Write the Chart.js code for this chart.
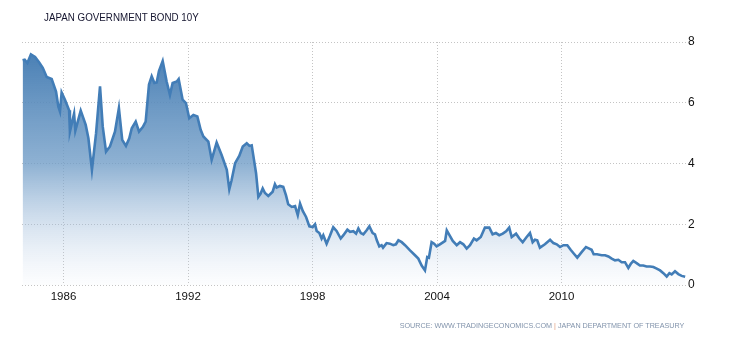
<!DOCTYPE html>
<html lang="en">
<head>
  <meta charset="UTF-8">
  <title>Japan Government Bond 10Y</title>
  <style>
    body {
      margin: 0;
      background: #fff;
      font-family: "Liberation Sans", Arial, sans-serif;
    }
    #wrap {
      position: relative;
      width: 730px;
      height: 340px;
    }
    #title {
      position: absolute;
      left: 44px;
      top: 11px;
      font-size: 11px;
      color: #14142e;
      white-space: nowrap;
      transform: scaleX(0.89);
      transform-origin: left top;
    }
    #source {
      position: absolute;
      right: 46px;
      top: 321px;
      font-size: 8px;
      color: #8193ab;
      white-space: nowrap;
      transform: scaleX(0.9);
      transform-origin: right top;
    }
    #source .sep {
      color: #e0a080;
    }
    canvas {
      position: absolute;
      left: 0;
      top: 0;
    }
  </style>
  <script src="https://cdn.jsdelivr.net/npm/chart.js@4.4.0/dist/chart.umd.min.js"></script>
</head>
<body>
  <div id="wrap">
    <canvas id="bond-chart" width="730" height="340"></canvas>
    <div id="title">JAPAN GOVERNMENT BOND 10Y</div>
    <div id="source">SOURCE: WWW.TRADINGECONOMICS.COM <span class="sep">|</span> JAPAN DEPARTMENT OF TREASURY</div>
  </div>

  <script>
    // dates as decimal years
    const years = [
      1984.03, 1984.13, 1984.26, 1984.43, 1984.63, 1984.82, 1985.00, 1985.19, 1985.43, 1985.64,
      1985.75, 1985.83, 1985.91, 1986.07, 1986.27, 1986.31, 1986.51, 1986.57, 1986.83, 1987.07,
      1987.20, 1987.37, 1987.57, 1987.76, 1987.89, 1988.05, 1988.24, 1988.48, 1988.67, 1988.83,
      1989.01, 1989.17, 1989.29, 1989.48, 1989.64, 1989.82, 1989.96, 1990.12, 1990.25, 1990.38,
      1990.49, 1990.60, 1990.78, 1990.97, 1991.13, 1991.26, 1991.46, 1991.55, 1991.74, 1991.90,
      1992.06, 1992.26, 1992.45, 1992.61, 1992.74, 1992.98, 1993.14, 1993.38, 1993.62, 1993.87,
      1993.99, 1994.10, 1994.27, 1994.47, 1994.64, 1994.83, 1994.96, 1995.07, 1995.18, 1995.28,
      1995.39, 1995.50, 1995.60, 1995.71, 1995.87, 1996.08, 1996.19, 1996.27, 1996.43, 1996.59,
      1996.72, 1996.83, 1997.00, 1997.16, 1997.29, 1997.40, 1997.53, 1997.69, 1997.85, 1998.01,
      1998.12, 1998.20, 1998.33, 1998.44, 1998.52, 1998.68, 1998.84, 1999.00, 1999.16, 1999.36,
      1999.49, 1999.68, 1999.81, 1999.97, 2000.10, 2000.21, 2000.33, 2000.45, 2000.61, 2000.74,
      2000.90, 2001.01, 2001.10, 2001.22, 2001.33, 2001.40, 2001.57, 2001.73, 2001.89, 2002.02,
      2002.14, 2002.30, 2002.46, 2002.70, 2002.94, 2003.10, 2003.26, 2003.42, 2003.53, 2003.61,
      2003.74, 2003.86, 2003.98, 2004.14, 2004.39, 2004.47, 2004.60, 2004.76, 2004.95, 2005.11,
      2005.27, 2005.43, 2005.59, 2005.78, 2005.91, 2006.11, 2006.31, 2006.52, 2006.68, 2006.84,
      2007.00, 2007.17, 2007.33, 2007.48, 2007.60, 2007.81, 2007.97, 2008.13, 2008.32, 2008.48,
      2008.61, 2008.72, 2008.83, 2008.96, 2009.20, 2009.45, 2009.61, 2009.77, 2009.93, 2010.09,
      2010.28, 2010.44, 2010.60, 2010.76, 2010.97, 2011.18, 2011.34, 2011.45, 2011.55, 2011.71,
      2011.94, 2012.10, 2012.26, 2012.42, 2012.58, 2012.74, 2012.90, 2013.06, 2013.22, 2013.34,
      2013.46, 2013.62, 2013.78, 2013.94, 2014.10, 2014.27, 2014.43, 2014.59, 2014.75, 2014.91,
      2015.07, 2015.20, 2015.31, 2015.47, 2015.63, 2015.79, 2015.96
    ];

    const yields = [
      7.40, 7.42, 7.31, 7.59, 7.51, 7.33, 7.15, 6.85, 6.78, 6.37,
      5.88, 5.71, 6.34, 6.10, 5.75, 5.05, 5.64, 5.08, 5.74, 5.27,
      4.83, 3.79, 5.00, 6.54, 5.22, 4.39, 4.56, 5.05, 5.82, 4.78,
      4.58, 4.83, 5.16, 5.38, 5.05, 5.20, 5.38, 6.60, 6.87, 6.65,
      6.67, 7.04, 7.37, 6.70, 6.26, 6.65, 6.70, 6.78, 6.10, 5.99,
      5.49, 5.60, 5.55, 5.11, 4.89, 4.72, 4.12, 4.69, 4.28, 3.79,
      3.15, 3.45, 4.01, 4.25, 4.56, 4.67, 4.58, 4.60, 4.12, 3.68,
      2.90, 3.01, 3.18, 3.03, 2.93, 3.07, 3.32, 3.21, 3.26, 3.23,
      2.96, 2.66, 2.57, 2.60, 2.30, 2.68, 2.44, 2.24, 1.93, 1.91,
      2.00, 1.78, 1.71, 1.53, 1.64, 1.36, 1.62, 1.90, 1.78, 1.53,
      1.64, 1.82, 1.75, 1.77, 1.69, 1.86, 1.71, 1.67, 1.80, 1.93,
      1.71, 1.67, 1.47, 1.27, 1.31, 1.23, 1.38, 1.36, 1.31, 1.34,
      1.47, 1.41, 1.31, 1.14, 0.98, 0.87, 0.64, 0.48, 0.92, 0.90,
      1.41, 1.36, 1.27, 1.34, 1.45, 1.80, 1.64, 1.45, 1.31, 1.41,
      1.34, 1.20, 1.31, 1.53, 1.47, 1.58, 1.89, 1.89, 1.67, 1.71,
      1.64, 1.69, 1.77, 1.89, 1.58, 1.69, 1.53, 1.41, 1.58, 1.71,
      1.41, 1.49, 1.47, 1.23, 1.34, 1.49, 1.38, 1.34, 1.25, 1.31,
      1.31, 1.16, 1.03, 0.90, 1.08, 1.25, 1.20, 1.16, 1.01, 1.01,
      0.98, 0.98, 0.94, 0.87, 0.81, 0.83, 0.75, 0.75, 0.56, 0.70,
      0.79, 0.72, 0.64, 0.64, 0.61, 0.61, 0.59, 0.54, 0.48, 0.39,
      0.28, 0.39, 0.35, 0.45, 0.36, 0.30, 0.27
    ];

    const yearTicks = [1986, 1992, 1998, 2004, 2010];
    const valueTicks = [0, 2, 4, 6, 8];

    const points = years.map((yr, i) => ({ x: yr, y: yields[i] }));

    // blue fill fading to white towards the zero line
    function areaFill(context) {
      const chart = context.chart;
      const area = chart.chartArea;
      if (!area) return 'rgba(70,130,180,0.5)';
      const g = chart.ctx.createLinearGradient(0, area.top, 0, area.bottom);
      g.addColorStop(0, 'rgba(66,122,177,1)');
      g.addColorStop(0.5, 'rgba(110,155,198,0.78)');
      g.addColorStop(1, 'rgba(200,215,235,0.05)');
      return g;
    }

    new Chart(document.getElementById('bond-chart'), {
      type: 'line',
      data: {
        datasets: [{
          data: points,
          borderColor: '#427db7',
          borderWidth: 2.6,
          backgroundColor: areaFill,
          fill: 'origin',
          pointRadius: 0,
          tension: 0
        }]
      },
      options: {
        responsive: false,
        animation: false,
        layout: {
          padding: { left: 22, right: 0, top: 42, bottom: 0 }
        },
        plugins: {
          legend: { display: false },
          tooltip: { enabled: false }
        },
        scales: {
          x: {
            type: 'linear',
            min: 1984,
            max: 2016,
            afterBuildTicks: scale => {
              scale.ticks = yearTicks.map(v => ({ value: v }));
            },
            afterFit: scale => { scale.height = 55; },
            grid: {
              color: '#c4c4c4',
              lineWidth: 1,
              drawTicks: false
            },
            border: { display: false, dash: [1, 2] },
            ticks: {
              padding: 5,
              color: '#111',
              font: { family: 'Liberation Sans', size: 11.5 },
              callback: v => String(v),
              maxRotation: 0
            }
          },
          y: {
            position: 'right',
            min: 0,
            max: 8,
            afterBuildTicks: scale => {
              scale.ticks = valueTicks.map(v => ({ value: v }));
            },
            afterFit: scale => { scale.width = 44; },
            grid: {
              color: '#c4c4c4',
              lineWidth: 1,
              drawTicks: false
            },
            border: { display: false, dash: [1, 2] },
            ticks: {
              padding: 2,
              color: '#111',
              font: { family: 'Liberation Sans', size: 12 }
            }
          }
        }
      }
    });
  </script>
</body>
</html>
